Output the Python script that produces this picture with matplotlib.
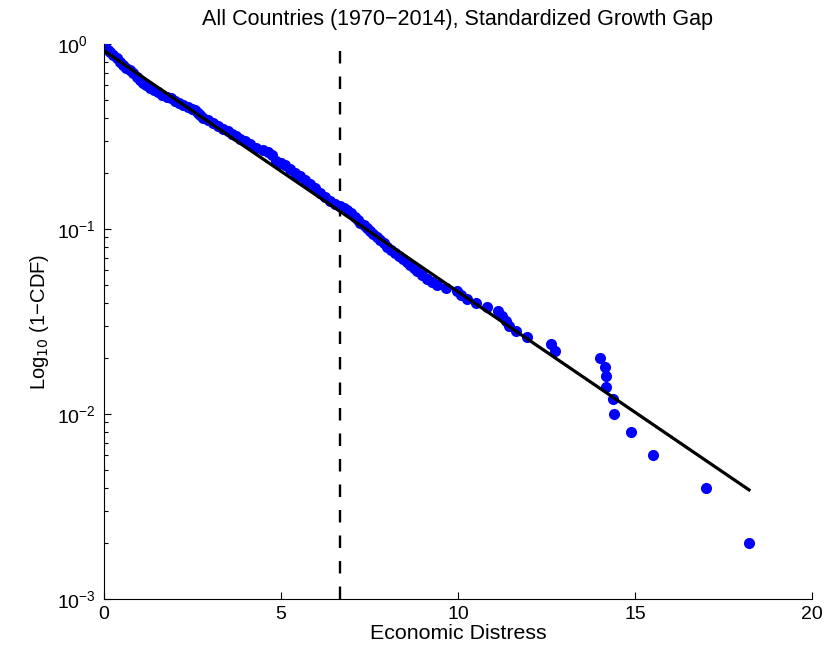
import numpy as np
import matplotlib
matplotlib.use("Agg")
import matplotlib.pyplot as plt
from matplotlib.ticker import LogLocator, FixedLocator, NullFormatter

plt.rcParams['font.family'] = ['Liberation Sans', 'DejaVu Sans']

# Empirical survival function: dense body (x, log10 of 1-CDF)
body_x = [0.00, 0.00, 0.06, 0.11, 0.17, 0.25, 0.37, 0.45, 0.54, 0.62, 0.73, 0.82,
          0.93, 1.02, 1.10, 1.19, 1.30, 1.41, 1.53, 1.64, 1.78, 1.89, 2.01,
          2.12, 2.23, 2.37, 2.49, 2.57, 2.66, 2.71, 2.80, 2.94, 3.08, 3.22,
          3.36, 3.50, 3.62, 3.73, 3.84, 3.98, 4.12, 4.29, 4.49, 4.63, 4.75,
          4.86, 5.00, 5.11, 5.25, 5.40, 5.54, 5.68, 5.82, 5.96, 6.10, 6.24,
          6.38, 6.53, 6.67, 6.78, 6.86, 6.98, 7.09, 7.18, 7.23, 7.34, 7.43,
          7.51, 7.60, 7.71, 7.80, 7.91, 7.99, 8.11, 8.22, 8.33, 8.45, 8.56,
          8.64, 8.76, 8.84, 8.98, 9.12, 9.27, 9.41]
body_log10 = [0.000, -0.016, -0.027, -0.032, -0.043, -0.059, -0.076, -0.097,
              -0.114, -0.130, -0.141, -0.157, -0.178, -0.195, -0.211, -0.222,
              -0.238, -0.249, -0.259, -0.276, -0.286, -0.292, -0.308, -0.319,
              -0.330, -0.341, -0.351, -0.357, -0.373, -0.384, -0.400, -0.411,
              -0.427, -0.443, -0.459, -0.470, -0.486, -0.497, -0.514, -0.524,
              -0.541, -0.562, -0.573, -0.584, -0.600, -0.632, -0.643, -0.654,
              -0.676, -0.697, -0.714, -0.735, -0.757, -0.778, -0.805, -0.827,
              -0.849, -0.865, -0.876, -0.886, -0.897, -0.914, -0.935, -0.951,
              -0.968, -0.978, -0.995, -1.011, -1.027, -1.043, -1.059, -1.076,
              -1.097, -1.114, -1.130, -1.146, -1.162, -1.178, -1.195, -1.211,
              -1.227, -1.249, -1.270, -1.286, -1.300]

# Sparse upper tail (1-CDF steps of 1/500)
tail_x = [9.66, 9.96, 10.07, 10.24, 10.50, 10.81, 11.12, 11.23, 11.35, 11.44,
          11.64, 11.94, 12.64, 12.74, 14.00, 14.15, 14.19, 14.19, 14.39, 14.41,
          14.90, 15.52, 17.00, 18.22]
tail_y = [0.048, 0.046, 0.044, 0.042, 0.040, 0.038, 0.036, 0.034, 0.032, 0.030,
          0.028, 0.026, 0.024, 0.022, 0.020, 0.018, 0.016, 0.014, 0.012, 0.010,
          0.008, 0.006, 0.004, 0.002]

# Exponential fit: S(x) = A * exp(-rate * x)
fit_A = 0.92
fit_rate = 0.300
fit_xmax = 18.22

threshold = 6.67

x_ticks = [0, 5, 10, 15, 20]
y_ticks = [1e-3, 1e-2, 1e-1, 1]
y_tick_labels = ['$\\mathdefault{10^{-3}}$', '$\\mathdefault{10^{-2}}$',
                 '$\\mathdefault{10^{-1}}$', '$\\mathdefault{10^{0}}$']

xs = list(body_x) + tail_x
ys = list(10.0 ** np.array(body_log10)) + tail_y

fig = plt.figure(figsize=(8.27, 6.60), dpi=100)
ax = fig.add_axes([0.1258, 0.0924, 0.8561, 0.8409])

ax.plot(xs, ys, 'o', color='#0000ff', markersize=8.0, markeredgewidth=0, zorder=2)
fx = np.linspace(0, fit_xmax, 200)
ax.plot(fx, fit_A * np.exp(-fit_rate * fx), '-', color='black', linewidth=2.3, zorder=3)
ax.axvline(threshold, color='black', linestyle=(0, (5.3, 5.5)), linewidth=1.7, zorder=1)

ax.set_yscale('log')
ax.set_xlim(0, 20)
ax.set_ylim(1e-3, 1)
ax.set_xticks(x_ticks)
ax.yaxis.set_major_locator(FixedLocator(y_ticks))
ax.set_yticklabels(y_tick_labels, ha='left')
ax.yaxis.set_minor_locator(LogLocator(base=10, subs=np.arange(2, 10), numticks=20))
ax.yaxis.set_minor_formatter(NullFormatter())

for s in ['top', 'right']:
    ax.spines[s].set_visible(False)
for s in ['left', 'bottom']:
    ax.spines[s].set_linewidth(0.8)
ax.tick_params(which='major', direction='in', length=5, width=0.8, labelsize=14)
ax.tick_params(which='minor', direction='in', length=3, width=0.8)
ax.tick_params(axis='x', pad=5)
ax.tick_params(axis='y', pad=34)

ax.set_xlabel('Economic Distress', fontsize=15.4, labelpad=1)
ax.set_ylabel('Log$_{10}$ (1\u2212CDF)', fontsize=14.5, labelpad=4)
fig.text(458 / 827, 1 - 19 / 660, 'All Countries (1970\u22122014), Standardized Growth Gap',
         fontsize=15.5, ha='center', va='center')

fig.savefig('out.png', dpi=100)
